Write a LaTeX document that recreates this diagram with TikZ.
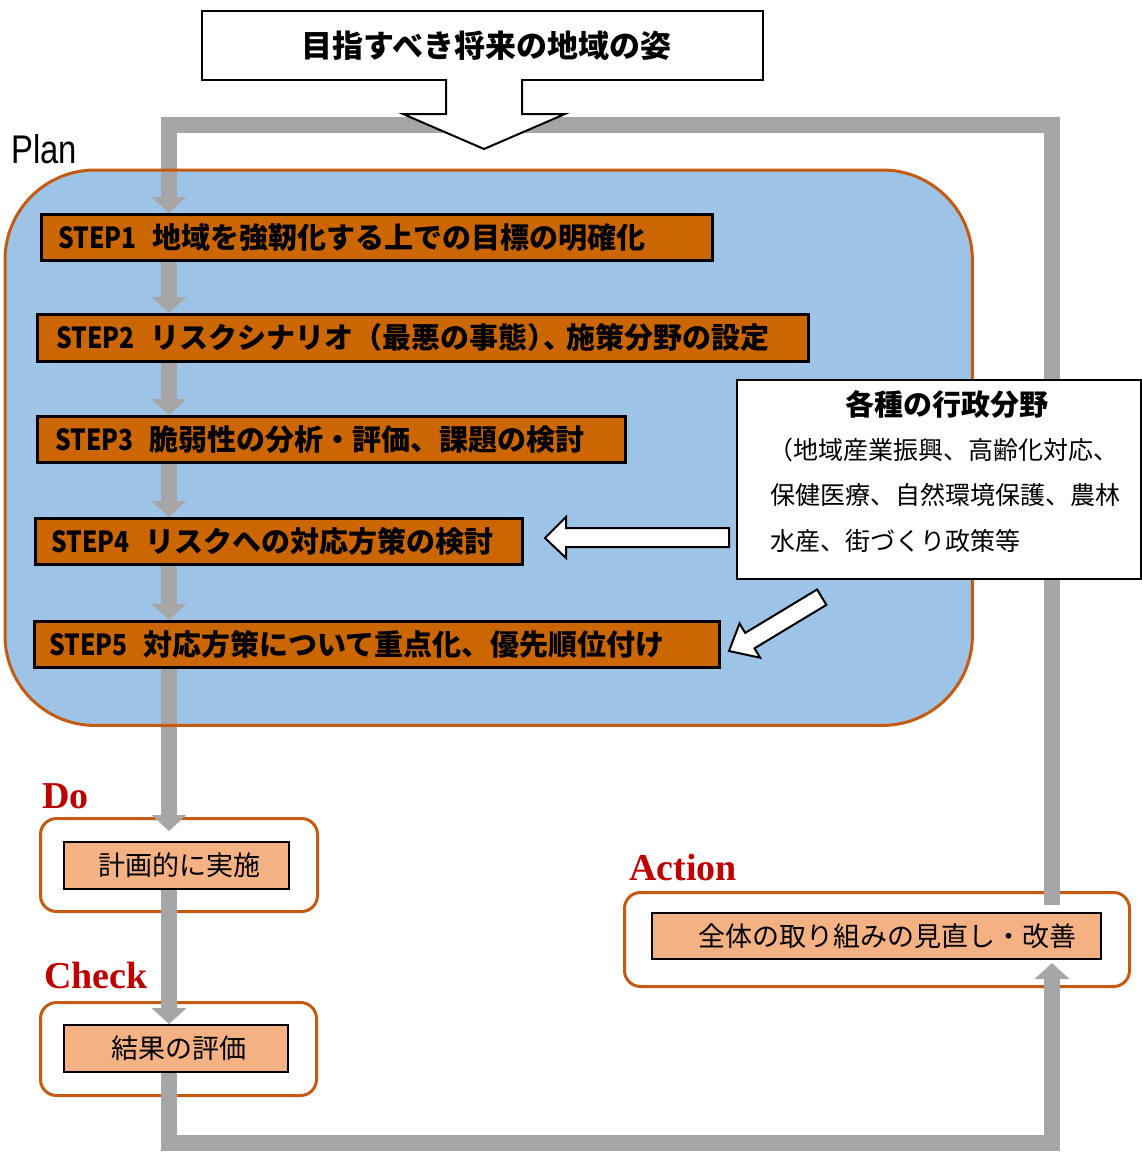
\documentclass[tikz,border=0pt]{standalone}
\usepackage{fontspec}
\setmainfont{Liberation Serif}
\newfontfamily\jp{Noto Sans CJK JP}
\newfontfamily\plainsans{Liberation Sans}
\usetikzlibrary{arrows.meta,calc}
\definecolor{bluefill}{HTML}{9DC3E6}
\definecolor{orln}{HTML}{C55A11}
\definecolor{stepor}{HTML}{CC6600}
\definecolor{peach}{HTML}{F4B183}
\definecolor{greyline}{HTML}{A6A6A6}
\definecolor{redlbl}{HTML}{C00000}
\pgfdeclarelayer{back}
\pgfdeclarelayer{mid}
\pgfsetlayers{back,mid,main}
\newcommand{\stp}[1]{\scalebox{0.85}[1]{STEP#1}\hspace{0.55em}}
\begin{document}
\begin{tikzpicture}[x=1pt,y=-1pt,
  stepbox/.style={draw=black, line width=2.5pt, fill=stepor, anchor=north west, inner ysep=0pt, minimum height=46pt, align=left, font=\jp\bfseries\fontsize{29pt}{31pt}\selectfont},
  outbox/.style={draw=orln, line width=3pt, fill=white, rounded corners=16pt, anchor=north west, inner sep=0pt},
  innbox/.style={draw=black, line width=2pt, fill=peach, anchor=north west, inner sep=0pt, font=\jp\fontsize{27pt}{29pt}\selectfont},
  garrow/.style={draw=greyline, line width=16pt, line join=miter, -{Triangle[width=34pt,length=16pt]}},
  hollow/.style={draw=black, line width=2pt, fill=white, line join=miter},
  phase/.style={text=redlbl, font=\fontsize{38pt}{40pt}\selectfont\bfseries, anchor=base west, inner sep=0pt},
  admtext/.style={anchor=west, inner sep=0pt, font=\jp\fontsize{25pt}{27pt}\selectfont},
]
\useasboundingbox (0,0) rectangle (1142,1152);

% plan region and outer boxes
\begin{pgfonlayer}{back}
\node[fill=bluefill, rounded corners=90pt, minimum width=967pt, minimum height=555pt, anchor=north west, inner sep=0pt] (plan) at (5,170) {};
\node[outbox, minimum width=277pt, minimum height=93pt] (doout) at (39,817) {};
\node[outbox, minimum width=276pt, minimum height=93pt] (chkout) at (39,1001) {};
\node[outbox, minimum width=505pt, minimum height=94pt] (actout) at (623,891) {};
\end{pgfonlayer}

% coordinates
\coordinate (lx) at (169,0);
\coordinate (tl) at (169,125);
\coordinate (tr) at (1052,125);
\coordinate (bl) at (169,1143);
\coordinate (br) at (1052,1143);
\coordinate (actTop) at (1052,905);
\coordinate (doTip) at (169,831);
\coordinate (actTip) at (1052,963);

% steps
\node[stepbox, inner xsep=17pt, text width=637pt] (s1) at (40,213) {\stp{1}地域を強靭化する上での目標の明確化};
\node[stepbox, inner xsep=19pt, text width=733pt, minimum height=47pt] (s2) at (36,313) {\stp{2}リスクシナリオ（最悪の事態）\hspace{-0.45em}、\hspace{-0.2em}施策分野の設定};
\node[stepbox, inner xsep=18pt, text width=552pt] (s3) at (36,415) {\stp{3}脆弱性の分析・評価、課題の検討};
\node[stepbox, inner xsep=16pt, text width=455pt] (s4) at (34,517) {\stp{4}リスクへの対応方策の検討};
\node[stepbox, inner xsep=15pt, text width=655pt] (s5) at (33,620) {\stp{5}対応方策について重点化、優先順位付け};

% do / check / action inner boxes
\node[innbox, minimum width=225pt, minimum height=47pt] (doin) at (63,841) {\hspace*{6pt}計画的に実施};
\node[innbox, minimum width=224pt, minimum height=47pt] (chkin) at (63,1024) {\hspace*{6pt}結果の評価};
\node[innbox, minimum width=449pt, minimum height=46pt] (actin) at (651,912) {\hspace*{22pt}全体の取り組みの見直し・改善};

% grey flow
\begin{pgfonlayer}{mid}
\draw[garrow] (actTop) -- (tr) -- (tl) -- (s1.north -| lx);
\draw[garrow] (s1.south -| lx) -- (s2.north -| lx);
\draw[garrow] (s2.south -| lx) -- (s3.north -| lx);
\draw[garrow] (s3.south -| lx) -- (s4.north -| lx);
\draw[garrow] (s4.south -| lx) -- (s5.north -| lx);
\draw[garrow] (s5.south -| lx) -- (doTip);
\draw[garrow] (doin.south -| lx) -- (chkin.north -| lx);
\draw[garrow] (chkin.south -| lx) -- (bl) -- (br) -- (actTip);
\draw[orln, line width=3pt, rounded corners=90pt] (plan.north west) rectangle (plan.south east);
\end{pgfonlayer}

% administrative fields box
\node[draw=black, line width=2pt, fill=white, anchor=north west, minimum width=404pt, minimum height=199pt, inner sep=0pt] (adm) at (736,379) {};
\node[inner sep=0pt, font=\jp\bfseries\fontsize{29pt}{31pt}\selectfont] (admt) at (947,404) {各種の行政分野};
\node[admtext] (adm1) at (768,450) {（地域産業振興、高齢化対応、};
\node[admtext] (adm2) at (770,495) {保健医療、自然環境保護、農林};
\node[admtext] (adm3) at (770,541) {水産、街づくり政策等};

% hollow arrows from the box
\draw[hollow] (729,528) -- (566,528) -- (566,517) -- (545,538) -- (566,558) -- (566,547) -- (729,547) -- cycle;
\draw[hollow] (826.4,604.9) -- (754.5,648.3) -- (760.1,657.7) -- (729,651) -- (739.5,623.5) -- (745.2,632.9) -- (817.1,589.5) -- cycle;

% goal box and its arrow
\node[draw=black, line width=2pt, fill=white, anchor=north west, minimum width=561pt, minimum height=69pt, inner sep=0pt, font=\jp\bfseries\fontsize{31pt}{33pt}\selectfont] (goal) at (201,10) {\hspace*{8pt}目指すべき将来の地域の姿};
\draw[hollow] (446,79) -- (446,114) -- (403,114) -- (484,149) -- (565,114) -- (522,114) -- (522,79);

% labels
\node[anchor=base west, inner sep=0pt, font=\plainsans\fontsize{40pt}{42pt}\selectfont] (plbl) at (11,163) {\scalebox{0.82}[1]{Plan}};
\node[phase] (dolbl) at (42,808) {Do};
\node[phase] (chklbl) at (44,988) {Check};
\node[phase] (actlbl) at (629,880) {Action};
\end{tikzpicture}
\end{document}
